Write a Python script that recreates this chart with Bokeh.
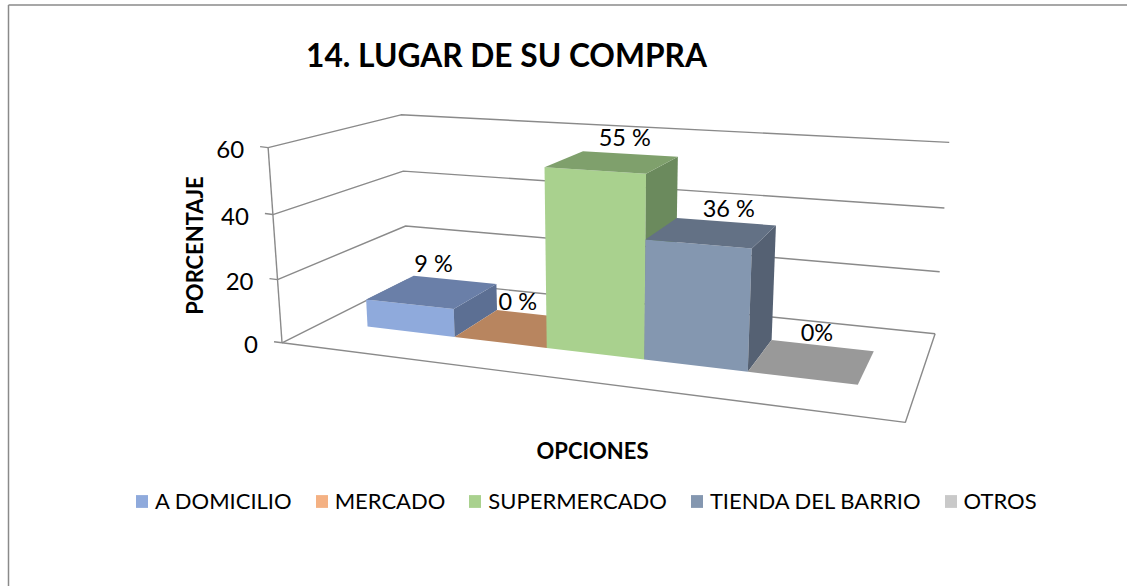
import numpy as np
from bokeh.plotting import figure
from bokeh.models import ColumnDataSource, Legend, LegendItem
from bokeh.core.properties import value
from bokeh.embed import file_html
from bokeh.resources import INLINE

# ---- data
categories = ["A DOMICILIO", "MERCADO", "SUPERMERCADO", "TIENDA DEL BARRIO", "OTROS"]
values = [9, 0, 55, 36, 0]
labels = ["9 %", "0 %", "55 %", "36 %", "0%"]
ticks = [0, 20, 40, 60]
title = "14. LUGAR DE SU COMPRA"
x_title = "OPCIONES"
y_title = "PORCENTAJE"

# ---- styles
front = ["#8faadc", "#f4b183", "#a9d18e", "#8497b0", "#c9c9c9"]
top = ["#6a7fa8", "#b8855f", "#7fa06c", "#637185", "#999999"]
side = ["#5c6f93", "#a0734f", "#6b8a5d", "#556173", "#858585"]
GREY = "#8a8a8a"
FONT = "Lato"

# ---- camera calibration: (category edge, depth, value) -> page pixel
anchors = [
    (0, 0, 0, 366, 325.7), (0, 0, 9, 365.3, 300), (0, 1, 9, 413.3, 276),
    (1, 0, 0, 454, 335.7), (1, 0, 9, 453.3, 310), (1, 1, 9, 496, 284), (1, 1, 0, 496, 309.3),
    (2, 0, 0, 546, 347.3), (2, 0, 55, 544, 166), (2, 1, 55, 582, 150),
    (3, 0, 0, 644.5, 358.5), (3, 0, 55, 645, 172.7), (3, 1, 55, 677, 155.7),
    (3, 0, 36, 644.7, 239.3), (3, 1, 36, 676, 217.7),
    (4, 0, 0, 748, 370.7), (4, 0, 36, 751.5, 248.3), (4, 1, 36, 775.5, 225.7), (4, 1, 0, 771.7, 339.3),
    (5, 0, 0, 857.3, 384), (5, 1, 0, 873.3, 350),
]
floor_px = dict(FL=(282, 342), FR=(905, 422), BR=(934, 333), BL=(407.5, 279.5))
wall_px = [("FL", 20, 277.5, 279), ("FL", 40, 272, 214.3), ("FL", 60, 268, 147.7),
           ("BL", 20, 405.3, 225), ("BL", 40, 403, 170), ("BL", 60, 401, 114),
           ("BR", 20, 939.3, 271.7), ("BR", 40, 944, 208), ("BR", 60, 949, 142.5)]


def fit(pts):
    A = []
    for x, d, z, u, v in pts:
        X = [x, d, z / 10, 1]
        A.append(X + [0, 0, 0, 0] + [-u / 1000 * c for c in X])
        A.append([0, 0, 0, 0] + X + [-v / 1000 * c for c in X])
    return np.linalg.svd(np.array(A, float))[2][-1].reshape(3, 4)


def proj(P, x, d, z):
    h = P @ np.array([x, d, z / 10, 1.0])
    return h[0] / h[2] * 1000, h[1] / h[2] * 1000


P = fit(anchors)
Hi = np.linalg.inv(P[:, [0, 1, 3]])
fw = {}
for k, (u, v) in floor_px.items():
    w = Hi @ np.array([u / 1000, v / 1000, 1.0])
    fw[k] = w[:2] / w[2]
xa = (fw["FL"][0] + fw["BL"][0]) / 2
xb = (fw["FR"][0] + fw["BR"][0]) / 2
da = (fw["FL"][1] + fw["FR"][1]) / 2
db = (fw["BL"][1] + fw["BR"][1]) / 2
corner = dict(FL=(xa, da), FR=(xb, da), BR=(xb, db), BL=(xa, db))
extra = [(*corner[k], 0, *floor_px[k]) for k in corner]
extra += [(*corner[k], z, u, v) for k, z, u, v in wall_px]
P = fit(anchors + extra)


def pt(x, d, z):
    return proj(P, x, d, z)


def poly(corners):
    q = [pt(*c) for c in corners]
    return [a for a, _ in q], [b for _, b in q]


# ---- figure: one unit is one page pixel
p = figure(width=1127, height=586, x_range=(0, 1127), y_range=(586, 0),
           output_backend="svg", toolbar_location=None, min_border=0,
           outline_line_color=None, background_fill_color="white",
           margin=(0, 0, 0, 0))
p.axis.visible = False
p.grid.visible = False

# chart frame
p.segment([8, 8], [4.5, 4.5], [1127, 8], [4.5, 586], line_color=GREY, line_width=1.5)

# walls, floor, axis
gx, gy = [], []
for t in ticks:
    a, b, c = pt(xa, da, t), pt(xa, db, t), pt(xb, db, t)
    gx.append([a[0], b[0], c[0]])
    gy.append([a[1], b[1], c[1]])
p.multi_line(gx, gy, line_color=GREY, line_width=1.4)
fx, fy = poly([(xa, da, 0), (xb, da, 0), (xb, db, 0)])
p.line(fx, fy, line_color=GREY, line_width=1.4)
ax, ay = poly([(xa, da, 0), (xa, da, ticks[-1])])
p.line(ax, ay, line_color=GREY, line_width=1.4)

tk = [pt(xa, da, t) for t in ticks]
p.segment([q[0] - 8 for q in tk], [q[1] - 1 for q in tk], [q[0] for q in tk], [q[1] for q in tk],
          line_color=GREY, line_width=1.4)
p.text([q[0] - 8 for q in tk], [q[1] for q in tk], text=[str(t) for t in ticks],
       text_font=value(FONT), text_font_size="24px", text_color="#000000",
       text_align="right", text_baseline="middle", x_offset=-16, y_offset=2)

# bars: painter's order, left to right
rend = []
for i, v in enumerate(values):
    x0, x1 = i, i + 1
    fxs, fys = poly([(x0, 0, 0), (x1, 0, 0), (x1, 0, v), (x0, 0, v)])
    r = p.patch(fxs, fys, fill_color=front[i], line_color=None)
    rend.append(r)
    if v > 0:
        sx, sy = poly([(x1, 0, 0), (x1, 1, 0), (x1, 1, v), (x1, 0, v)])
        p.patch(sx, sy, fill_color=side[i], line_color=None)
    tx, ty = poly([(x0, 0, v), (x1, 0, v), (x1, 1, v), (x0, 1, v)])
    p.patch(tx, ty, fill_color=top[i], line_color=None)

# data labels: placed by hand above the back edge of each bar
label_dx = [-21, -22, -5, 3, -5]
label_dy = [-17, -14, -17, -14, -14]
lp = [pt(i + 0.5, 1, v) for i, v in enumerate(values)]
p.text([q[0] for q in lp], [q[1] for q in lp], text=labels,
       x_offset=label_dx, y_offset=label_dy,
       text_font=value(FONT), text_font_size="23.5px", text_color="#000000",
       text_align="center", text_baseline="middle")

# titles
p.text([506], [54], text=[title], text_font=value(FONT), text_font_style="bold",
       text_font_size="31.7px", text_align="center", text_baseline="middle", text_color="#000000")
p.text([592], [450], text=[x_title], text_font=value(FONT), text_font_style="bold",
       text_font_size="22px", text_align="center", text_baseline="middle", text_color="#000000")
p.text([194], [245], text=[y_title], angle=[np.pi / 2], text_font=value(FONT), text_font_style="bold",
       text_font_size="22px", text_align="center", text_baseline="middle", text_color="#000000")

# legend
legend = Legend(items=[LegendItem(label=c, renderers=[r]) for c, r in zip(categories, rend)],
                orientation="horizontal", location=(134, 72), glyph_width=15, glyph_height=16,
                label_standoff=6, spacing=22, margin=0, padding=8, border_line_color=None,
                background_fill_alpha=0, label_text_font=FONT, label_text_font_size="22px",
                label_text_color="#000000", label_height=16)
p.add_layout(legend, "center")

open("out.html", "w").write(file_html(p, INLINE))
